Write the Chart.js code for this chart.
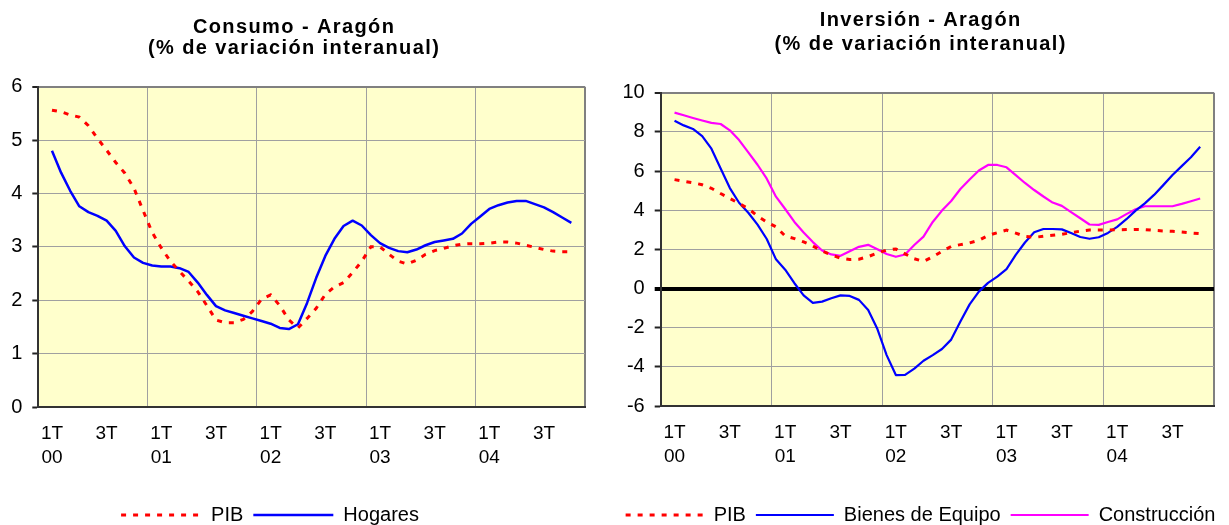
<!DOCTYPE html>
<html><head><meta charset="utf-8">
<script src="https://cdn.jsdelivr.net/npm/chart.js@4.4.1/dist/chart.umd.min.js"></script>
<style>
html,body{margin:0;padding:0;background:#fff;overflow:hidden;width:1229px;height:525px;}
#w1{position:absolute;left:0;top:0;width:600px;height:535px;}
#w2{position:absolute;left:600px;top:0;width:629px;height:535px;}
</style></head><body>
<div id="w1"><canvas id="c1" width="600" height="535"></canvas></div>
<div id="w2"><canvas id="c2" width="629" height="535"></canvas></div>
<script>
// ---- tick labels ----
const years = ['00','01','02','03','04'];
const quarterLabels = ['1T','3T'];
// monthly points (centred quarterly series), first point in Feb 2000
const monthOffset = 1.5;

// ---- Consumo - Aragón ----
const pibConsumo = [5.56,5.53,5.47,5.43,5.27,5.03,4.81,4.58,4.38,4.10,3.68,3.27,2.98,2.73,2.54,2.36,2.16,1.90,1.63,1.58,1.58,1.64,1.79,2.02,2.10,1.90,1.63,1.48,1.66,1.85,2.11,2.25,2.33,2.52,2.73,3.00,3.00,2.86,2.73,2.68,2.75,2.86,2.93,2.97,3.02,3.05,3.06,3.06,3.07,3.09,3.09,3.07,3.03,2.99,2.95,2.92,2.91,2.91];
const hogares = [4.80,4.39,4.05,3.76,3.65,3.58,3.49,3.30,3.01,2.80,2.70,2.65,2.63,2.63,2.60,2.53,2.33,2.10,1.89,1.81,1.76,1.71,1.66,1.61,1.56,1.48,1.46,1.55,1.95,2.42,2.83,3.15,3.39,3.49,3.40,3.22,3.07,2.98,2.92,2.90,2.95,3.03,3.09,3.12,3.15,3.25,3.43,3.57,3.71,3.78,3.83,3.86,3.86,3.80,3.74,3.65,3.55,3.45];

// ---- Inversión - Aragón ----
const pibInversion = [5.56,5.48,5.40,5.30,5.12,4.85,4.60,4.34,4.08,3.70,3.40,3.15,2.68,2.55,2.38,2.17,1.91,1.72,1.55,1.48,1.50,1.63,1.81,1.96,2.02,1.77,1.52,1.38,1.62,1.90,2.15,2.24,2.33,2.46,2.71,2.85,2.98,2.83,2.66,2.61,2.67,2.72,2.77,2.85,2.93,2.99,2.99,2.99,3.00,3.01,3.02,3.01,2.97,2.94,2.92,2.89,2.84,2.80];
const bienesEquipo = [8.57,8.33,8.15,7.78,7.14,6.13,5.13,4.38,3.87,3.26,2.53,1.49,0.96,0.27,-0.35,-0.73,-0.67,-0.50,-0.35,-0.38,-0.58,-1.10,-2.07,-3.40,-4.42,-4.41,-4.09,-3.69,-3.40,-3.09,-2.61,-1.69,-0.81,-0.16,0.29,0.61,0.99,1.72,2.35,2.87,3.04,3.04,3.02,2.83,2.63,2.54,2.62,2.84,3.15,3.54,3.98,4.35,4.78,5.28,5.80,6.25,6.70,7.24];
const construccion = [8.98,8.85,8.71,8.58,8.46,8.40,8.08,7.58,6.95,6.32,5.61,4.69,4.06,3.40,2.86,2.37,1.94,1.74,1.67,1.90,2.13,2.23,2.01,1.76,1.62,1.74,2.22,2.65,3.40,3.98,4.47,5.08,5.57,6.03,6.31,6.31,6.19,5.79,5.39,5.03,4.70,4.39,4.22,3.90,3.59,3.27,3.25,3.40,3.53,3.80,4.05,4.20,4.20,4.20,4.20,4.32,4.46,4.60];

// y-axis ranges [min, max, step]
const consumoRange = [0, 6, 1];
const inversionRange = [-6, 10, 2];

Chart.defaults.font.family = "'Liberation Sans', Arial, sans-serif";
Chart.defaults.color = '#000';

const monthsPerYear = 12;
const xTickValues = years.flatMap((y, k) => [k*monthsPerYear, k*monthsPerYear + 1.5, k*monthsPerYear + 7.5]).concat([years.length*monthsPerYear]);
function xLabel(v) {
  const k = Math.floor(v / monthsPerYear);
  const m = v - k*monthsPerYear;
  if (m === 1.5) return [quarterLabels[0], years[k]];
  if (m === 7.5) return quarterLabels[1];
  return '';
}
const toXY = arr => arr.map((v, i) => ({x: i + monthOffset, y: v}));

const plotBg = {
  id: 'plotBg',
  beforeDraw(chart) {
    const a = chart.chartArea, c = chart.ctx;
    c.save(); c.fillStyle = '#FFFFCC';
    c.fillRect(a.left, a.top, a.right - a.left, a.bottom - a.top);
    c.restore();
  }
};
const shiftBoxes = {
  id: 'shiftBoxes',
  afterLayout(chart, args, o) {
    if (chart.legend) { chart.legend.left += o.legendDx; chart.legend.right += o.legendDx; }
    const t = chart.titleBlock;
    if (t) {
      t.left += o.titleDx; t.right += o.titleDx;
      if (!t._spaced) {
        const orig = t.draw;
        t.draw = function(area) { const c = this.ctx; c.save(); c.letterSpacing = o.titleSpacing; orig.call(this, area); c.restore(); };
        t._spaced = true;
      }
    }
  }
};

function xScale(h) {
  const maxX = years.length*monthsPerYear;
  return {
    type: 'linear', min: 0, max: maxX,
    afterBuildTicks: s => { s.ticks = xTickValues.map(v => ({value: v})); },
    afterFit: s => { s.height = h; },
    ticks: { autoSkip: false, maxRotation: 0, minRotation: 0, padding: 15, color: '#000',
             font: {size: 19, lineHeight: 1.27}, callback: v => xLabel(v) },
    grid: {
      drawTicks: false,
      color: c => { const v = c.tick.value; if (v === maxX) return '#808080'; return (v % monthsPerYear === 0 && v !== 0) ? '#a0a0a0' : 'rgba(0,0,0,0)'; },
      lineWidth: c => c.tick.value === maxX ? 2 : 1
    },
    border: { color: '#333', width: 2 }
  };
}
function yScale(range, w) {
  return {
    type: 'linear', min: range[0], max: range[1],
    afterFit: s => { s.width = w; },
    ticks: { stepSize: range[2], padding: 10, color: '#000', font: {size: 20} },
    grid: {
      tickLength: 6,
      color: c => { const v = c.tick.value; if (v === range[1]) return '#808080'; if (v === 0 && range[0] < 0) return '#000'; return '#a0a0a0'; },
      lineWidth: c => { const v = c.tick.value; if (v === range[1]) return 2; if (v === 0 && range[0] < 0) return 4; return 1; },
      tickColor: c => (c.tick.value === 0 && range[0] < 0) ? '#000' : '#222',
      tickWidth: c => (c.tick.value === 0 && range[0] < 0) ? 4 : 2
    },
    border: { color: '#333', width: 2 }
  };
}
function legendOpts(w) {
  return { position: 'bottom',
    labels: { usePointStyle: true, pointStyle: 'line', pointStyleWidth: w, font: {size: 20}, color: '#000', padding: 10,
      generateLabels: chart => {
        const items = Chart.defaults.plugins.legend.labels.generateLabels(chart);
        items.forEach(it => {
          const ds = chart.data.datasets[it.datasetIndex];
          it.lineDash = ds.borderDash || [];
          it.lineWidth = ds.borderWidth;
          it.strokeStyle = ds.borderColor;
          it.lineCap = 'butt';
        });
        return items;
      } } };
}
const pibStyle = { borderColor: '#FF0000', borderWidth: 3, borderDash: [5, 7], pointRadius: 0, tension: 0, fill: false };
const solid = col => ({ borderColor: col, borderWidth: 2.5, pointRadius: 0, tension: 0, fill: false, borderJoinStyle: 'round' });

new Chart(document.getElementById('c1'), {
  type: 'line',
  data: { datasets: [
    Object.assign({ label: 'PIB', data: toXY(pibConsumo) }, pibStyle),
    Object.assign({ label: 'Hogares', data: toXY(hogares) }, solid('#0000FF'))
  ]},
  options: {
    responsive: false, animation: false,
    layout: { padding: { left: 0, right: 13.2, top: 0, bottom: 0 } },
    plugins: {
      title: { display: true, text: ['Consumo - Aragón', '(% de variación interanual)'],
               font: { size: 20, weight: 'bold', lineHeight: 1.05 }, color: '#000', padding: { top: 17, bottom: 27.7 } },
      legend: legendOpts(80),
      tooltip: { enabled: false },
      shiftBoxes: { legendDx: -23.4, titleDx: 0.7, titleSpacing: '1.4px' }
    },
    scales: { x: xScale(88), y: yScale(consumoRange, 38.3) }
  },
  plugins: [plotBg, shiftBoxes]
});

new Chart(document.getElementById('c2'), {
  type: 'line',
  data: { datasets: [
    Object.assign({ label: 'PIB', data: toXY(pibInversion) }, pibStyle),
    Object.assign({ label: 'Bienes de Equipo', data: toXY(bienesEquipo) }, solid('#0000FF'), {borderWidth: 2.2}),
    Object.assign({ label: 'Construcción', data: toXY(construccion) }, solid('#FF00FF'), {borderWidth: 2.2})
  ]},
  options: {
    responsive: false, animation: false,
    layout: { padding: { left: 0, right: 13.8, top: 0, bottom: 0 } },
    plugins: {
      title: { display: true, text: ['Inversión - Aragón', '(% de variación interanual)'],
               font: { size: 20, weight: 'bold', lineHeight: 1.2 }, color: '#000', padding: { top: 8, bottom: 36.7 } },
      legend: legendOpts(78),
      tooltip: { enabled: false },
      shiftBoxes: { legendDx: 12.9, titleDx: 13.1, titleSpacing: '1.4px' }
    },
    scales: { x: xScale(89), y: yScale(inversionRange, 60.7) }
  },
  plugins: [plotBg, shiftBoxes]
});
</script>
</body></html>
